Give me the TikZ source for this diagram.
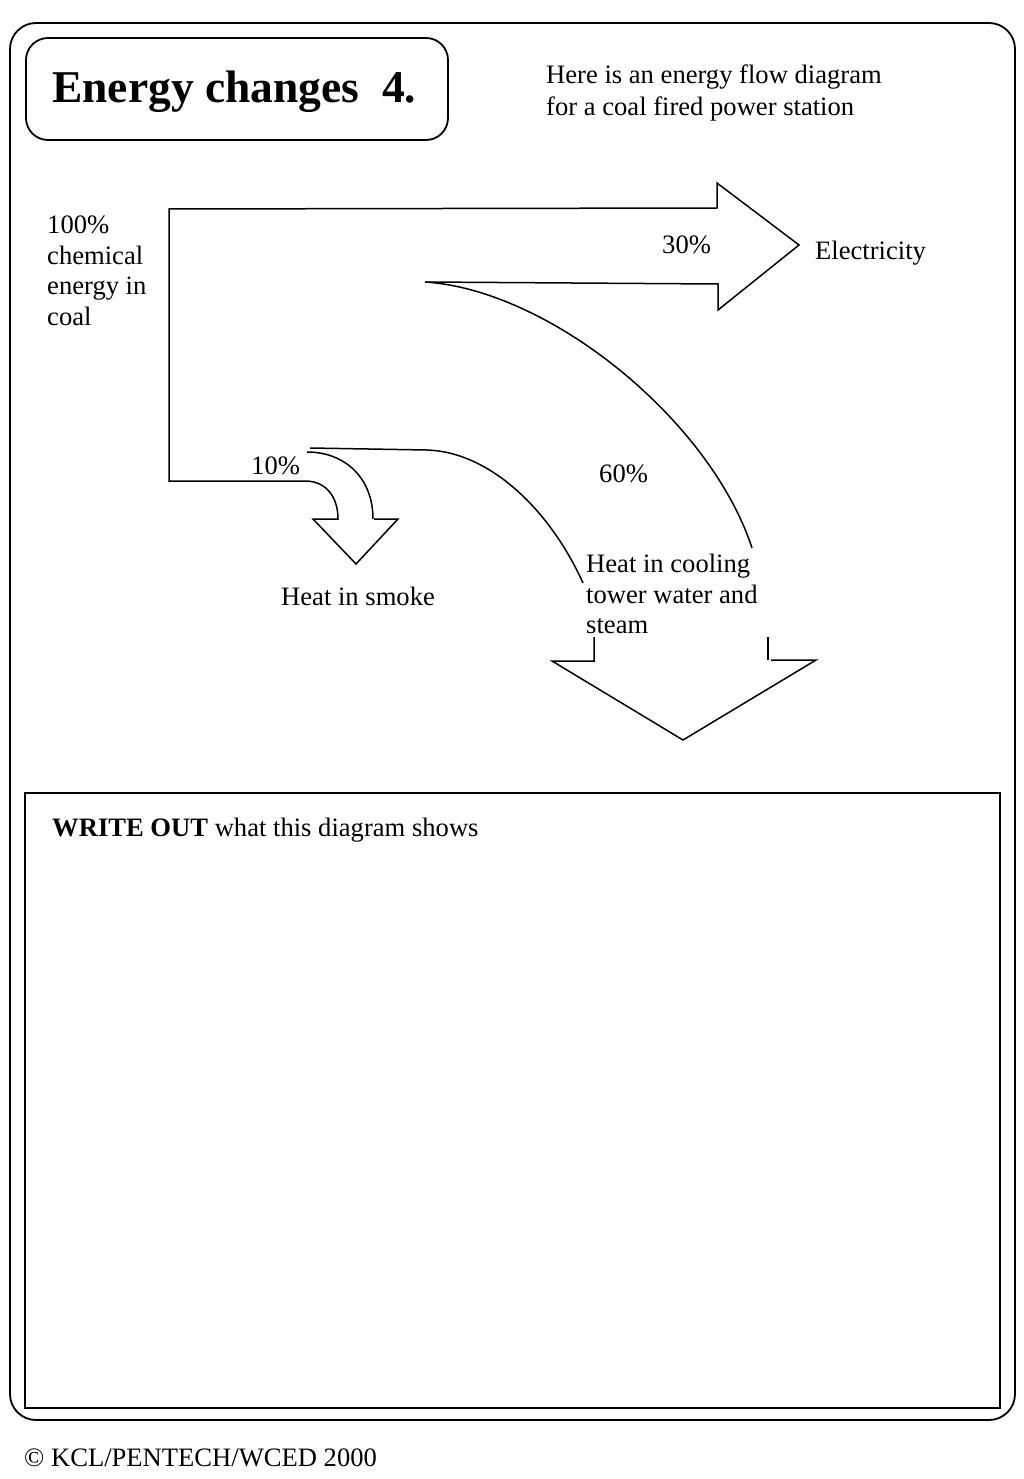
\documentclass[tikz,border=0pt]{standalone}
\usepackage{fontspec}
\setmainfont{Liberation Serif}
\begin{document}
\begin{tikzpicture}[x=1pt,y=-1pt,
  line join=miter,
  frame/.style={line width=1.8pt},
  flow/.style={line width=1.5pt},
  txt/.style={inner sep=0pt, font=\fontsize{26.6}{30.5}\selectfont},
  mtxt/.style={txt, align=left, anchor=north west}]
\useasboundingbox (0,0) rectangle (1024,1479);
% outer frame
\draw[frame, rounded corners=26pt] (10,23) rectangle (1015,1420);
% title box
\draw[frame, rounded corners=22pt] (26,38) rectangle (448,140);
\node[inner sep=0pt, anchor=base west, font=\fontsize{45.5}{50}\selectfont\bfseries] (title) at (52,103) {Energy changes\ \ 4.};
\node[txt, align=left, anchor=north west, font=\fontsize{26.6}{32}\selectfont] (intro) at (546,65) {Here is an energy flow diagram\\for a coal fired power station};
% main energy flow arrow
\coordinate (tl) at (169,209);
\coordinate (bl) at (169,481);
\draw[flow] (305,481) -- (bl) -- (tl) -- (717,208) -- (717,183) -- (799,245) -- (718,310) -- (718,284) -- (425,282);
% 60% outer curve
\draw[flow] (425,282) .. controls (550,290) and (710,420) .. (752,548);
% 60% inner curve
\draw[flow] (310,448) -- (427,450) .. controls (490,452) and (550,510) .. (583,583);
% smoke arrow
\draw[flow] (305,481) .. controls (327,481) and (338,498) .. (338,519) -- (313,519) -- (356,564) -- (398,519) -- (374,519);
\draw[flow] (307,452) .. controls (345,452) and (373,478) .. (373,519);
% cooling arrow head
\draw[flow] (594,637) -- (594,661) -- (552,661) -- (683,740) -- (816,660) -- (771,660);
\draw[flow] (768,637) -- (768,660);
% labels
\node[mtxt] (coal) at (47,216) {100\%\\chemical\\energy in\\coal};
\node[txt, anchor=base west] (p30) at (662,254) {30\%};
\node[txt, anchor=base west] (elec) at (815,259) {Electricity};
\node[txt, anchor=base west] (p10) at (251,474) {10\%};
\node[txt, anchor=base west] (p60) at (599,482) {60\%};
\node[txt, anchor=base west] (smoke) at (281,605) {Heat in smoke};
\node[mtxt] (cool) at (586,554) {Heat in cooling\\tower water and\\steam};
% write-out box
\draw[line width=1.5pt] (25,793) rectangle (1000,1408);
\node[txt, anchor=base west] (write) at (52,836) {\textbf{WRITE OUT} what this diagram shows};
\node[txt, anchor=base west] (copy) at (24,1466) {© KCL/PENTECH/WCED 2000};
\end{tikzpicture}
\end{document}
